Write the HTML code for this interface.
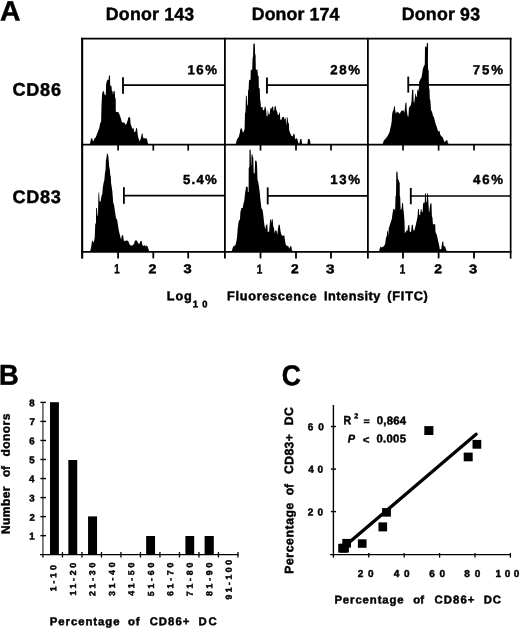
<!DOCTYPE html>
<html><head><meta charset="utf-8"><style>
html,body{margin:0;padding:0;background:#fff;}
body{width:520px;height:629px;overflow:hidden;}
svg{display:block;}
text{font-family:"Liberation Sans",sans-serif;font-weight:bold;fill:#000;stroke:#000;stroke-width:0.45px;}
svg{will-change:transform;}
</style></head><body>
<svg width="520" height="629" viewBox="0 0 520 629">
<g fill="#000">
<polygon points="90,144.3 90.7,139.8 91.5,138.3 92.2,138.3 92.8,141 93.8,140.6 94.5,138.3 95.7,137.5 96.8,134.5 98,131.4 99.2,128.3 99.9,124.5 100.5,122.5 101.1,121.4 101.5,105.8 102,95 102.2,93.2 103,91.2 103.4,90.5 104.2,92.8 104.8,95 105.8,95 106.1,84.3 106.8,81.2 107.6,79.7 108.6,80.1 108.9,75.8 109.5,75.1 110,76.6 110.2,85.1 110.7,85.8 111.5,86.2 111.8,90.5 112.5,91.2 113,95 113.5,91.2 114.2,90.8 114.8,92 115.1,97.4 115.7,98.9 115.8,111.8 118.4,112.2 119.2,113.7 120.3,116.8 121.2,119.5 121.8,122.2 123,122.5 124.3,122.5 125.5,124.8 126.6,123.7 127.8,119.8 128.5,117.2 130.1,117.2 130.6,123.7 131.6,126.8 132.4,129.1 133.4,127.5 134.3,132.2 135.5,131.4 136.2,127.9 137,128.3 137.8,135.2 138.5,138.3 139.7,141.4 140.8,138.3 141.8,133.7 142.6,133.3 142.9,137.5 143.9,138.3 145.8,138.3 147,139.1 147.8,142.9 148.5,144.3"/>
<polygon points="235.8,144.3 236.2,142.2 236.9,139.8 237.7,138.3 238.8,136.8 239.6,133.7 240.4,129.1 241.2,127.9 241.9,129.1 242.7,132.2 243.5,132.2 244.6,129.1 245,112.9 245.5,112.2 245.9,96 246.7,95.6 247.2,105.2 247.8,105.2 248.1,90.6 248.6,89.8 249,80.6 249.8,79.8 250.5,79.8 250.8,70 251.4,69.2 252.2,70.8 252.5,59.2 253.1,55.4 253.3,44.6 254.1,43.1 254.8,44.6 255.1,53.8 255.6,55.4 255.8,69.2 256.8,70 257.4,69.2 257.9,75.4 258.7,76.2 258.8,87.5 259.8,89.1 260,99.1 260.5,101.4 260.9,106.8 261.7,107.5 262.5,106.8 262.8,109.8 264,110.6 264.8,106.8 265.5,106.4 266.3,111.4 266.6,116 267.5,116.5 267.8,109.1 268.6,114.5 269.5,114.5 270.2,109.8 270.9,107.5 271.6,108.7 272.4,106.3 273.2,107.1 273.6,111.1 274.1,111.1 274.6,106.3 275.7,106.3 276.4,110.3 277.2,111.9 277.9,115.1 278.7,115.1 279.4,112.3 279.9,113.1 280.3,119.8 281.5,119.8 282.3,117.1 283.9,117.1 284.7,119.8 285.5,117.1 286.3,125.4 286.9,117.5 287.6,117.5 288.1,122.2 288.9,123.8 289.2,130.2 290.3,133.4 291.5,135.7 292.7,136.5 293.7,133.4 294.6,134.2 295,138.5 295.8,139.3 296.6,138.1 297.4,138.9 298.2,142.9 299.4,143.7 300.2,138.9 301.4,138.9 302.2,144.3 307.4,144.3 308,138.9 309.3,138.9 310,140.5 310.6,144.3"/>
<polygon points="382.6,144.3 383.8,140.6 385.3,139.1 386.5,137.5 388,135.2 389.5,132.2 390.5,127.5 391.1,125.2 391.7,121.4 392,115.2 392.6,111.4 393.4,110.6 394.1,106 394.8,106.5 395.7,113.7 396.4,111.4 396.8,112.9 397.8,111.4 398.8,112.9 399.6,113.7 400.4,112.5 401.5,110.8 403,110.6 403.8,110.6 404.2,112.9 404.6,111.4 405.4,102.9 406.4,102.5 406.7,109.8 407.6,116 408.4,116.8 408.9,108.3 409.6,106.8 410.8,105.2 411.5,101.4 412.1,89.8 413.3,89.8 413.6,101.4 414.2,102.9 415.2,95.2 415.8,92.9 416.2,96.8 416.9,96.8 417.3,89.8 418.1,89.8 418.5,91.4 418.8,88.3 419.2,81.4 420,80.6 420.4,79.1 421.5,77.5 422.3,73.1 422.8,69.2 423.8,66.2 424.8,64.6 425,46.9 425.8,46.2 426.5,47.7 426.9,43.1 427.7,42.7 428.1,44.6 427.9,63.1 428.1,69.2 428.7,70.8 428.8,80 429,87.5 429.5,89.8 429.8,99.1 430.4,100.6 430.8,106.8 431,110 432.2,112.3 432.9,115.4 434.1,117.7 434.8,120.8 435.6,123.8 436.8,126.9 437.9,130.8 438.7,131.5 439.5,130.8 440.2,134.6 441.4,136.2 442.5,136.9 443.7,140 444.8,142.3 446,140.4 447.2,140 447.9,143.1 448.7,144.3"/>
<polygon points="90.1,251.3 91.1,247.6 92,241.2 92.9,240.7 93.8,243 94.8,236.6 95.2,224.6 96,222.7 96.1,208 96.9,208 97.5,216.3 98,214.4 98.4,196 98.6,192.5 99.1,192.2 99.6,201.5 100.7,201.5 101.5,195.7 102.3,194.1 102.9,187 103.7,182.2 104.3,180.6 105,172.7 105.5,170.3 105.9,160.7 106.5,157.5 106.9,154 107.7,153.6 108.3,156 108.7,159.9 109.1,166.3 109.7,168.7 110.3,175 110.8,176.6 111.1,183 111.6,186.2 112.3,191 112.7,196 113.2,202.5 114.1,205.2 115,211.7 116,218.1 117.2,220 117.8,224.3 118.8,230.5 119.9,235.1 121.1,239.7 121.8,235.5 123,235.1 123.8,240.5 124.9,241.2 125.7,240.5 127.2,240.5 128.4,241.2 129.4,244.3 130.7,245.5 132.6,245.5 134.2,243.5 134.9,240.5 136.8,240.5 137.8,242.4 139.2,244.3 140.3,241.6 141.1,240.5 141.8,242 142.5,245.5 143.8,245.8 144.9,245.1 145.7,246.6 146.8,245.5 147.6,246.6 148.4,248.9 149.2,251.3"/>
<polygon points="231.8,251.3 232.8,247.4 233.7,246 235.2,245.5 236.1,242.7 237.1,236.9 237.7,228.4 238.5,222.6 239.3,219.3 239.9,220.7 240.4,212.1 241.4,208.3 242.8,207.8 243.5,203.1 244.2,201.6 245,194 245.9,187.4 246.7,186.2 247.8,187.4 247.9,192.1 248.6,191.7 248.7,168.3 249.4,166.7 249.5,150 250.2,149.2 250.7,150.8 251,165.1 251.3,165.5 251.5,154.8 252.3,154 252.7,156.3 253.3,157.9 253.7,173 254.7,173.4 255.1,161.1 255.9,160.3 256.8,161.9 257.1,166.7 257.5,179.4 258.3,182.6 259.1,187.4 259.9,193.7 260.4,199.7 261.4,208.3 262.5,209.7 263.3,215 264.2,223.4 265.2,229.5 266,224.9 267.3,224.2 267.7,231.8 269.1,231.8 269.6,225.7 270.2,219.5 270.9,219.2 271.4,223.4 271.7,219.5 272.7,219.2 273.2,226.5 274,228 274.5,233.4 275.2,230.3 276.5,230.7 277.3,234.9 278.1,228 278.8,224.5 279.8,224.9 280.4,230.3 281.2,234.2 282.3,235.7 283.5,235.7 284.2,234.9 285,240.3 285.8,244.9 286.9,245.7 288.5,246.5 289.2,248.8 290.4,246.1 291.4,246.5 291.9,249.9 292.7,251.3"/>
<polygon points="379.1,251.3 379.8,248.3 380.6,246.4 381.8,247.5 382.9,246.8 384.1,246 385.2,243.7 386,237.5 386.8,236 387.2,230.6 387.9,231.4 388.3,236 388.7,229.1 389.5,226 390.2,223.7 391,221.4 391.8,219.1 392.5,213.7 393.3,209.1 394.3,208.7 395.1,211.1 395.5,196.8 396,195.2 396.3,172.2 397.1,171.2 397.6,172.9 397.9,179.3 398.7,180.1 399.1,182.1 399.7,182.5 399.8,196 400.2,196.8 400.6,209.5 401.4,209.5 402.2,203.2 403,202.8 403.4,209.5 403.8,212.2 404.5,221.4 404.8,232.9 405.6,232.2 406.6,230.6 407.5,230.6 408.3,225.2 409.2,224.8 409.8,231.4 411,232.2 411.8,225.2 412.3,224.5 412.8,225 413.4,230.5 414.4,230.5 415.6,225.7 416.8,220.2 417.6,216.2 418,209.1 418.8,208.7 419.2,214.6 420,215.4 420.7,209.8 421.4,208.7 421.9,212.2 422.7,211.4 423.1,203.5 424.1,202.3 424.7,203.5 425.1,193.2 425.9,193.2 426.1,201.9 426.7,201.9 427.1,193.2 427.9,193.6 428.3,200.3 428.9,211.4 429.3,212.2 429.9,205.9 430.7,203.1 431.5,203.5 431.9,216.2 432.5,217.8 432.9,224.3 435.2,224.3 435.5,232.1 436.7,234.4 437.5,237.9 438.4,241.9 439.3,246 439.8,249.4 441.3,249.1 442.2,241.9 443.3,241.6 443.6,246 445,246.5 445.9,248.9 446.8,251.3"/>
</g>
<g stroke="#000" fill="none">
<line x1="81.1" y1="38.7" x2="511.5" y2="38.7" stroke-width="1.8"/>
<line x1="81.1" y1="144.6" x2="511.5" y2="144.6" stroke-width="1.9"/>
<line x1="81.1" y1="251.85" x2="511.5" y2="251.85" stroke-width="1.9"/>
<line x1="82.15" y1="37.8" x2="82.15" y2="258.6" stroke-width="2.1"/>
<line x1="224.9" y1="37.8" x2="224.9" y2="258.6" stroke-width="1.8"/>
<line x1="367.9" y1="37.8" x2="367.9" y2="258.6" stroke-width="1.8"/>
<line x1="510.65" y1="37.8" x2="510.65" y2="258.6" stroke-width="1.7"/>
<line x1="118.1" y1="251" x2="118.1" y2="258.4" stroke-width="1.8"/>
<line x1="118.1" y1="145" x2="118.1" y2="150.6" stroke-width="1.7"/>
<line x1="153.3" y1="251" x2="153.3" y2="258.4" stroke-width="1.8"/>
<line x1="153.3" y1="145" x2="153.3" y2="150.6" stroke-width="1.7"/>
<line x1="188.2" y1="251" x2="188.2" y2="258.4" stroke-width="1.8"/>
<line x1="188.2" y1="145" x2="188.2" y2="150.6" stroke-width="1.7"/>
<line x1="260.5" y1="251" x2="260.5" y2="258.4" stroke-width="1.8"/>
<line x1="260.5" y1="145" x2="260.5" y2="150.6" stroke-width="1.7"/>
<line x1="296.0" y1="251" x2="296.0" y2="258.4" stroke-width="1.8"/>
<line x1="296.0" y1="145" x2="296.0" y2="150.6" stroke-width="1.7"/>
<line x1="331.0" y1="251" x2="331.0" y2="258.4" stroke-width="1.8"/>
<line x1="331.0" y1="145" x2="331.0" y2="150.6" stroke-width="1.7"/>
<line x1="403.0" y1="251" x2="403.0" y2="258.4" stroke-width="1.8"/>
<line x1="403.0" y1="145" x2="403.0" y2="150.6" stroke-width="1.7"/>
<line x1="438.6" y1="251" x2="438.6" y2="258.4" stroke-width="1.8"/>
<line x1="438.6" y1="145" x2="438.6" y2="150.6" stroke-width="1.7"/>
<line x1="474.0" y1="251" x2="474.0" y2="258.4" stroke-width="1.8"/>
<line x1="474.0" y1="145" x2="474.0" y2="150.6" stroke-width="1.7"/>
<line x1="123.0" y1="77.2" x2="123.0" y2="93.7" stroke-width="1.85"/>
<line x1="123.0" y1="85.1" x2="224.9" y2="85.1" stroke-width="1.7"/>
<line x1="266.95" y1="77.4" x2="266.95" y2="93.4" stroke-width="1.85"/>
<line x1="266.95" y1="85.2" x2="367.9" y2="85.2" stroke-width="1.7"/>
<line x1="408.25" y1="76.6" x2="408.25" y2="92.6" stroke-width="1.85"/>
<line x1="408.25" y1="84.8" x2="510.65" y2="84.8" stroke-width="1.7"/>
<line x1="123.9" y1="187.2" x2="123.9" y2="203.8" stroke-width="1.85"/>
<line x1="123.9" y1="195.55" x2="224.9" y2="195.55" stroke-width="1.7"/>
<line x1="267.7" y1="187.4" x2="267.7" y2="204.4" stroke-width="1.85"/>
<line x1="267.7" y1="195.95" x2="367.9" y2="195.95" stroke-width="1.7"/>
<line x1="410.8" y1="187.9" x2="410.8" y2="204.3" stroke-width="1.85"/>
<line x1="410.8" y1="196.0" x2="510.65" y2="196.0" stroke-width="1.7"/>
</g>
<g stroke="#000" fill="none">
<line x1="42.95" y1="402.0" x2="42.95" y2="555.3" stroke-width="1.1" stroke="#1a1a1a"/>
<line x1="40.4" y1="535.66" x2="46" y2="535.66" stroke-width="1.4"/>
<line x1="40.4" y1="516.62" x2="46" y2="516.62" stroke-width="1.4"/>
<line x1="40.4" y1="497.58" x2="46" y2="497.58" stroke-width="1.4"/>
<line x1="40.4" y1="478.54" x2="46" y2="478.54" stroke-width="1.4"/>
<line x1="40.4" y1="459.50" x2="46" y2="459.50" stroke-width="1.4"/>
<line x1="40.4" y1="440.46" x2="46" y2="440.46" stroke-width="1.4"/>
<line x1="40.4" y1="421.42" x2="46" y2="421.42" stroke-width="1.4"/>
<line x1="40.4" y1="402.38" x2="46" y2="402.38" stroke-width="1.4"/>
<line x1="40" y1="554.6" x2="238.5" y2="554.6" stroke-width="1.4"/>
<line x1="42.95" y1="553.9" x2="42.95" y2="557.5" stroke-width="1.3"/>
<line x1="62.45" y1="552.0" x2="62.45" y2="557.5" stroke-width="1.3"/>
<line x1="81.95" y1="552.0" x2="81.95" y2="557.5" stroke-width="1.3"/>
<line x1="101.45" y1="552.0" x2="101.45" y2="557.5" stroke-width="1.3"/>
<line x1="120.95" y1="552.0" x2="120.95" y2="557.5" stroke-width="1.3"/>
<line x1="140.45" y1="552.0" x2="140.45" y2="557.5" stroke-width="1.3"/>
<line x1="159.95" y1="552.0" x2="159.95" y2="557.5" stroke-width="1.3"/>
<line x1="179.45" y1="552.0" x2="179.45" y2="557.5" stroke-width="1.3"/>
<line x1="198.95" y1="552.0" x2="198.95" y2="557.5" stroke-width="1.3"/>
<line x1="218.45" y1="552.0" x2="218.45" y2="557.5" stroke-width="1.3"/>
<line x1="237.95" y1="552.0" x2="237.95" y2="557.5" stroke-width="1.3"/>
</g>
<g fill="#000">
<rect x="50.0" y="402.2" width="8.9" height="152.8"/>
<rect x="68.35" y="460" width="8.9" height="95.0"/>
<rect x="88.05" y="516.4" width="9.0" height="38.6"/>
<rect x="146.15" y="536" width="8.9" height="19.0"/>
<rect x="185.4" y="536" width="8.8" height="19.0"/>
<rect x="204.6" y="536" width="9.2" height="19.0"/>
</g>
<g stroke="#000" fill="none">
<line x1="333.4" y1="405" x2="333.4" y2="555.5" stroke-width="1.4"/>
<line x1="330.9" y1="426.5" x2="336" y2="426.5" stroke-width="1.4"/>
<line x1="330.9" y1="469.1" x2="336" y2="469.1" stroke-width="1.4"/>
<line x1="330.9" y1="511.6" x2="336" y2="511.6" stroke-width="1.4"/>
<line x1="330.1" y1="554.7" x2="510.6" y2="554.7" stroke-width="1.3"/>
<line x1="333.4" y1="554" x2="333.4" y2="557.6" stroke-width="1.3"/>
<line x1="368.8" y1="553.0" x2="368.8" y2="557.6" stroke-width="1.3"/>
<line x1="404.2" y1="553.0" x2="404.2" y2="557.6" stroke-width="1.3"/>
<line x1="439.6" y1="553.0" x2="439.6" y2="557.6" stroke-width="1.3"/>
<line x1="475.0" y1="553.0" x2="475.0" y2="557.6" stroke-width="1.3"/>
<line x1="510.4" y1="553.0" x2="510.4" y2="557.6" stroke-width="1.3"/>
</g>
<line x1="347" y1="544.3" x2="476.1" y2="434.2" stroke="#000" stroke-width="3.3" stroke-linecap="round"/>
<g fill="#000">
<rect x="338.2" y="543.8" width="8.8" height="8.8"/>
<rect x="340.1" y="543.8" width="8.8" height="8.8"/>
<rect x="342.3" y="538.9" width="8.7" height="8.7"/>
<rect x="357.9" y="539.3" width="8.65" height="8.5"/>
<rect x="378.5" y="522.4" width="8.6" height="9.0"/>
<rect x="382.1" y="508.1" width="8.8" height="8.55"/>
<rect x="424.3" y="426.1" width="9.1" height="8.9"/>
<rect x="463.7" y="452.6" width="9.0" height="8.7"/>
<rect x="472.5" y="439.9" width="8.75" height="8.8"/>
</g>
<g id="A" transform="translate(0.03,20.55) scale(1.0520,1.0389) matrix(1,0.0008,0,1,0,0)"><text font-size="27.00" >A</text></g>
<g id="B" transform="translate(-0.88,384.84) scale(1.0114,1.0651) matrix(1,0.0008,0,1,0,0)"><text font-size="27.00" >B</text></g>
<g id="C" transform="translate(281.80,385.37) scale(0.9812,1.0679) matrix(1,0.0008,0,1,0,0)"><text font-size="27.00" >C</text></g>
<g id="d143" transform="translate(105.81,20.08) matrix(1,0.0008,0,1,0,0)"><text font-size="17.78" textLength="88.46" lengthAdjust="spacing" >Donor 143</text></g>
<g id="d174" transform="translate(251.73,20.08) matrix(1,0.0008,0,1,0,0)"><text font-size="17.78" textLength="87.56" lengthAdjust="spacing" >Donor 174</text></g>
<g id="d93" transform="translate(401.82,20.08) matrix(1,0.0008,0,1,0,0)"><text font-size="17.78" textLength="78.23" lengthAdjust="spacing" >Donor 93</text></g>
<g id="cd86" transform="translate(12.44,95.62) matrix(1,0.0008,0,1,0,0)"><text font-size="18.11" textLength="48.55" lengthAdjust="spacing" >CD86</text></g>
<g id="cd83" transform="translate(12.60,203.08) matrix(1,0.0008,0,1,0,0)"><text font-size="18.11" textLength="48.12" lengthAdjust="spacing" >CD83</text></g>
<g id="p16" transform="translate(187.42,74.27) matrix(1,0.0008,0,1,0,0)"><text font-size="13.25" textLength="29.58" lengthAdjust="spacing" >16%</text></g>
<g id="p28" transform="translate(330.15,74.27) matrix(1,0.0008,0,1,0,0)"><text font-size="13.25" textLength="29.88" lengthAdjust="spacing" >28%</text></g>
<g id="p75" transform="translate(472.70,74.27) matrix(1,0.0008,0,1,0,0)"><text font-size="13.25" textLength="30.38" lengthAdjust="spacing" >75%</text></g>
<g id="p54" transform="translate(183.04,184.04) matrix(1,0.0008,0,1,0,0)"><text font-size="13.25" textLength="33.71" lengthAdjust="spacing" >5.4%</text></g>
<g id="p13" transform="translate(330.25,184.04) matrix(1,0.0008,0,1,0,0)"><text font-size="13.25" textLength="29.86" lengthAdjust="spacing" >13%</text></g>
<g id="p46" transform="translate(473.07,184.04) matrix(1,0.0008,0,1,0,0)"><text font-size="13.25" textLength="30.06" lengthAdjust="spacing" >46%</text></g>
<g id="t01" transform="translate(114.15,273.34) scale(0.8121,1.0878) matrix(1,0.0008,0,1,0,0)"><text font-size="12.00" >1</text></g>
<g id="t02" transform="translate(148.59,273.35) scale(1.1817,1.0703) matrix(1,0.0008,0,1,0,0)"><text font-size="12.00" >2</text></g>
<g id="t03" transform="translate(183.56,273.12) scale(1.2271,1.0346) matrix(1,0.0008,0,1,0,0)"><text font-size="12.00" >3</text></g>
<g id="t11" transform="translate(256.69,273.45) scale(0.8316,1.0744) matrix(1,0.0008,0,1,0,0)"><text font-size="12.00" >1</text></g>
<g id="t12" transform="translate(291.06,273.30) scale(1.1539,1.0863) matrix(1,0.0008,0,1,0,0)"><text font-size="12.00" >2</text></g>
<g id="t13" transform="translate(325.91,273.13) scale(1.2679,1.0612) matrix(1,0.0008,0,1,0,0)"><text font-size="12.00" >3</text></g>
<g id="t21" transform="translate(399.80,273.41) scale(0.8139,1.0855) matrix(1,0.0008,0,1,0,0)"><text font-size="12.00" >1</text></g>
<g id="t22" transform="translate(434.25,273.35) scale(1.1537,1.0661) matrix(1,0.0008,0,1,0,0)"><text font-size="12.00" >2</text></g>
<g id="t23" transform="translate(469.09,273.14) scale(1.2197,1.0412) matrix(1,0.0008,0,1,0,0)"><text font-size="12.00" >3</text></g>
<g id="log" transform="translate(166.72,300.33) matrix(1,0.0008,0,1,0,0)"><text font-size="12.72" textLength="25.16" lengthAdjust="spacing" >Log</text></g>
<g id="sub10" transform="translate(192.82,307.31) matrix(1,0.0008,0,1,0,0)"><text font-size="9.42" textLength="14.67" lengthAdjust="spacing" >10</text></g>
<g id="fluor" transform="translate(227.04,300.33) matrix(1,0.0008,0,1,0,0)"><text font-size="12.72" textLength="89.58" lengthAdjust="spacing" >Fluorescence</text></g>
<g id="inten" transform="translate(324.04,300.33) matrix(1,0.0008,0,1,0,0)"><text font-size="12.72" textLength="56.36" lengthAdjust="spacing" >Intensity</text></g>
<g id="fitc" transform="translate(387.34,300.33) matrix(1,0.0008,0,1,0,0)"><text font-size="12.72" textLength="40.53" lengthAdjust="spacing" >(FITC)</text></g>
<g id="by1" transform="translate(34.71,539.42) matrix(1,0.0008,0,1,0,0)"><text font-size="9.69" text-anchor="end" >1</text></g>
<g id="by2" transform="translate(34.82,520.70) matrix(1,0.0008,0,1,0,0)"><text font-size="9.69" text-anchor="end" >2</text></g>
<g id="by3" transform="translate(34.75,501.53) matrix(1,0.0008,0,1,0,0)"><text font-size="9.69" text-anchor="end" >3</text></g>
<g id="by4" transform="translate(34.37,482.26) matrix(1,0.0008,0,1,0,0)"><text font-size="9.69" text-anchor="end" >4</text></g>
<g id="by5" transform="translate(34.74,463.19) matrix(1,0.0008,0,1,0,0)"><text font-size="9.69" text-anchor="end" >5</text></g>
<g id="by6" transform="translate(34.69,444.31) matrix(1,0.0008,0,1,0,0)"><text font-size="9.69" text-anchor="end" >6</text></g>
<g id="by7" transform="translate(34.82,425.08) matrix(1,0.0008,0,1,0,0)"><text font-size="9.69" text-anchor="end" >7</text></g>
<g id="by8" transform="translate(34.64,406.33) matrix(1,0.0008,0,1,0,0)"><text font-size="9.69" text-anchor="end" >8</text></g>
<g id="bx0" transform="translate(56.30,591.31) rotate(-90) matrix(1,0.0008,0,1,0,0)"><text font-size="8.78" textLength="26.20" lengthAdjust="spacing" >1-10</text></g>
<g id="bx1" transform="translate(76.04,595.42) rotate(-90) matrix(1,0.0008,0,1,0,0)"><text font-size="8.78" textLength="32.51" lengthAdjust="spacing" >11-20</text></g>
<g id="bx2" transform="translate(95.20,596.05) rotate(-90) matrix(1,0.0008,0,1,0,0)"><text font-size="8.78" textLength="33.38" lengthAdjust="spacing" >21-30</text></g>
<g id="bx3" transform="translate(115.03,595.94) rotate(-90) matrix(1,0.0008,0,1,0,0)"><text font-size="8.78" textLength="33.58" lengthAdjust="spacing" >31-40</text></g>
<g id="bx4" transform="translate(134.28,595.81) rotate(-90) matrix(1,0.0008,0,1,0,0)"><text font-size="8.78" textLength="33.12" lengthAdjust="spacing" >41-50</text></g>
<g id="bx5" transform="translate(153.89,596.29) rotate(-90) matrix(1,0.0008,0,1,0,0)"><text font-size="8.78" textLength="33.62" lengthAdjust="spacing" >51-60</text></g>
<g id="bx6" transform="translate(173.19,596.09) rotate(-90) matrix(1,0.0008,0,1,0,0)"><text font-size="8.78" textLength="33.45" lengthAdjust="spacing" >61-70</text></g>
<g id="bx7" transform="translate(192.82,596.15) rotate(-90) matrix(1,0.0008,0,1,0,0)"><text font-size="8.78" textLength="33.48" lengthAdjust="spacing" >71-80</text></g>
<g id="bx8" transform="translate(212.13,596.05) rotate(-90) matrix(1,0.0008,0,1,0,0)"><text font-size="8.78" textLength="33.40" lengthAdjust="spacing" >81-90</text></g>
<g id="bx9" transform="translate(231.79,599.62) rotate(-90) matrix(1,0.0008,0,1,0,0)"><text font-size="8.78" textLength="39.72" lengthAdjust="spacing" >91-100</text></g>
<g id="nd1" transform="translate(9.74,534.09) rotate(-90) matrix(1,0.0008,0,1,0,0)"><text font-size="12.00" textLength="47.58" lengthAdjust="spacing" >Number</text></g>
<g id="nd2" transform="translate(9.80,477.08) rotate(-90) matrix(1,0.0008,0,1,0,0)"><text font-size="12.00" textLength="11.07" lengthAdjust="spacing" >of</text></g>
<g id="nd3" transform="translate(9.75,456.62) rotate(-90) matrix(1,0.0008,0,1,0,0)"><text font-size="12.00" textLength="43.00" lengthAdjust="spacing" >donors</text></g>
<g id="bt1" transform="translate(49.82,625.31) matrix(1,0.0008,0,1,0,0)"><text font-size="11.35" textLength="69.68" lengthAdjust="spacing" >Percentage</text></g>
<g id="bt2" transform="translate(127.91,625.31) matrix(1,0.0008,0,1,0,0)"><text font-size="11.35" textLength="11.63" lengthAdjust="spacing" >of</text></g>
<g id="bt3" transform="translate(149.64,625.31) matrix(1,0.0008,0,1,0,0)"><text font-size="11.35" textLength="39.74" lengthAdjust="spacing" >CD86+</text></g>
<g id="bt4" transform="translate(198.40,625.31) matrix(1,0.0008,0,1,0,0)"><text font-size="11.35" textLength="18.21" lengthAdjust="spacing" >DC</text></g>
<g id="cy60" transform="translate(307.79,430.35) matrix(1,0.0008,0,1,0,0)"><text font-size="10.05" textLength="16.06" lengthAdjust="spacing" >60</text></g>
<g id="cy40" transform="translate(308.35,472.84) matrix(1,0.0008,0,1,0,0)"><text font-size="10.05" textLength="14.73" lengthAdjust="spacing" >40</text></g>
<g id="cy20" transform="translate(307.80,515.60) matrix(1,0.0008,0,1,0,0)"><text font-size="10.05" textLength="15.28" lengthAdjust="spacing" >20</text></g>
<g id="cx20" transform="translate(357.76,577.10) matrix(1,0.0008,0,1,0,0)"><text font-size="10.05" textLength="15.78" lengthAdjust="spacing" >20</text></g>
<g id="cx40" transform="translate(393.72,577.10) matrix(1,0.0008,0,1,0,0)"><text font-size="10.05" textLength="15.93" lengthAdjust="spacing" >40</text></g>
<g id="cx60" transform="translate(429.37,577.10) matrix(1,0.0008,0,1,0,0)"><text font-size="10.05" textLength="15.76" lengthAdjust="spacing" >60</text></g>
<g id="cx80" transform="translate(464.35,577.10) matrix(1,0.0008,0,1,0,0)"><text font-size="10.05" textLength="16.11" lengthAdjust="spacing" >80</text></g>
<g id="cx100" transform="translate(495.56,577.10) matrix(1,0.0008,0,1,0,0)"><text font-size="10.05" textLength="23.75" lengthAdjust="spacing" >100</text></g>
<g id="ct1" transform="translate(334.38,603.51) matrix(1,0.0008,0,1,0,0)"><text font-size="11.35" textLength="69.30" lengthAdjust="spacing" >Percentage</text></g>
<g id="ct2" transform="translate(413.18,603.51) matrix(1,0.0008,0,1,0,0)"><text font-size="11.35" textLength="10.79" lengthAdjust="spacing" >of</text></g>
<g id="ct3" transform="translate(434.42,603.51) matrix(1,0.0008,0,1,0,0)"><text font-size="11.35" textLength="40.08" lengthAdjust="spacing" >CD86+</text></g>
<g id="ct4" transform="translate(483.76,603.51) matrix(1,0.0008,0,1,0,0)"><text font-size="11.35" textLength="17.32" lengthAdjust="spacing" >DC</text></g>
<g id="cyt1" transform="translate(293.10,425.34) rotate(-90) matrix(1,0.0008,0,1,0,0)"><text font-size="12.20" textLength="18.09" lengthAdjust="spacing" >DC</text></g>
<g id="cyt2" transform="translate(293.12,474.12) rotate(-90) matrix(1,0.0008,0,1,0,0)"><text font-size="12.20" textLength="40.08" lengthAdjust="spacing" >CD83+</text></g>
<g id="cyt3" transform="translate(293.17,495.34) rotate(-90) matrix(1,0.0008,0,1,0,0)"><text font-size="12.20" textLength="11.31" lengthAdjust="spacing" >of</text></g>
<g id="cyt4" transform="translate(293.13,573.77) rotate(-90) matrix(1,0.0008,0,1,0,0)"><text font-size="12.20" textLength="71.15" lengthAdjust="spacing" >Percentage</text></g>
<g id="R" transform="translate(343.61,424.27) scale(0.8746,0.9993) matrix(1,0.0008,0,1,0,0)"><text font-size="12.00" >R</text></g>
<g id="R2" transform="translate(358.19,418.36) matrix(1,0.0008,0,1,0,0)"><text font-size="7.26" text-anchor="end" >2</text></g>
<g id="eq" transform="translate(363.62,424.56) scale(0.8854,0.8217) matrix(1,0.0008,0,1,0,0)"><text font-size="12.00" >=</text></g>
<g id="v864" transform="translate(376.85,424.37) matrix(1,0.0008,0,1,0,0)"><text font-size="11.32" textLength="29.14" lengthAdjust="spacing" >0,864</text></g>
<g id="P" transform="translate(347.75,442.61) scale(0.9119,0.9548) matrix(1,0.0008,0,1,0,0)"><text font-size="12.00" font-style="italic">P</text></g>
<g id="lt" transform="translate(362.63,443.47) scale(0.9575,0.9096) matrix(1,0.0008,0,1,0,0)"><text font-size="12.00" >&lt;</text></g>
<g id="v005" transform="translate(376.52,442.57) matrix(1,0.0008,0,1,0,0)"><text font-size="11.32" textLength="29.43" lengthAdjust="spacing" >0.005</text></g>
</svg>
</body></html>
